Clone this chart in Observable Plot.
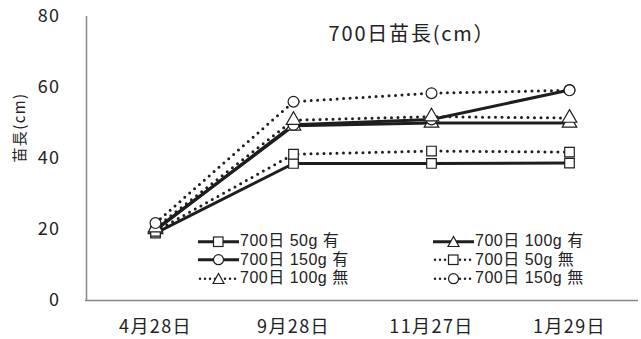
<!DOCTYPE html>
<html><head><meta charset="utf-8">
<script src="https://cdn.jsdelivr.net/npm/d3@7"></script>
<script src="https://cdn.jsdelivr.net/npm/@observablehq/plot@0.6"></script>
<style>
html,body{margin:0;padding:0;background:#fff;}
#wrap{position:relative;width:641px;height:339px;font-family:"Noto Sans CJK JP","Noto Sans",sans-serif;color:#222;}
#title{position:absolute;left:0;width:824px;top:20px;line-height:26px;text-align:center;font-size:20px;letter-spacing:1.8px;}
.leg{position:absolute;display:flex;align-items:center;font-family:"Liberation Sans","Noto Sans CJK JP",sans-serif;font-size:16px;line-height:18px;height:18px;white-space:pre;letter-spacing:0.5px;}
.leg svg{margin-right:1px;}
svg text{letter-spacing:1.4px;}
</style></head>
<body><div id="wrap"><div id="title">700日苗長(cm）</div></div>
<script>
const dates = ["4月28日","9月28日","11月27日","1月29日"];
const seriesNames = ["700日 50g 有","700日 100g 有","700日 150g 有","700日 50g 無","700日 100g 無","700日 150g 無"];
const s50yes  = [19.0, 38.6, 38.6, 38.7];
const s100yes = [20.0, 49.2, 50.0, 50.0];
const s150yes = [19.8, 49.5, 51.0, 59.3];
const s50no   = [19.5, 41.2, 42.1, 41.8];
const s100no  = [20.5, 50.8, 51.8, 51.4];
const s150no  = [21.8, 56.0, 58.4, 59.2];
const yTicks = [0,20,40,60,80];
const symbols = ["square","triangle","circle","square","triangle","circle"];
const dashed = [false,false,false,true,true,true];

const all = [s50yes,s100yes,s150yes,s50no,s100no,s150no];
const data = [];
all.forEach((vals,i)=>vals.forEach((v,j)=>data.push({series:seriesNames[i],date:dates[j],value:v,sym:symbols[i],dotted:dashed[i]})));
const solidData = data.filter(d=>!d.dotted);
const dotData = data.filter(d=>d.dotted);

const ink = "#1e1e1e";
const plot = Plot.plot({
  width:641, height:339,
  marginLeft:85, marginRight:3, marginTop:16, marginBottom:39,
  style:{fontFamily:'"Noto Sans CJK JP","Noto Sans",sans-serif', fontSize:"18px", color:"#222", background:"transparent"},
  x:{type:"point", domain:dates, padding:0.5, label:null},
  y:{domain:[0,80], ticks:yTicks, label:null},
  symbol:{domain:["square","triangle","circle"],range:["square","triangle","circle"]},
  marks:[
    Plot.axisY({ticks:yTicks, tickSize:0, tickPadding:25, fontSize:18, label:null}),
    Plot.axisX({tickSize:0, tickPadding:20, fontSize:18, label:null}),
    Plot.ruleX([0],{x:()=>dates[0], dx:-69, y1:0, y2:80, stroke:"#888", strokeWidth:1.5}),
    Plot.ruleY([0],{stroke:"#888", strokeWidth:1.5}),
    Plot.line(dotData,{x:"date",y:"value",z:"series",stroke:ink,strokeWidth:3,strokeDasharray:"0,6.5",strokeLinecap:"round"}),
    Plot.line(solidData,{x:"date",y:"value",z:"series",stroke:ink,strokeWidth:3}),
    Plot.dot(data,{x:"date",y:"value",symbol:"sym",r:5.4,fill:"white",stroke:ink,strokeWidth:1.2}),
    Plot.text(["苗長(cm)"],{frameAnchor:"left",textAnchor:"middle",dx:-65,dy:-31,rotate:-90,fontSize:15,fill:"#222"})
  ]
});
const wrap = document.getElementById("wrap");
wrap.insertBefore(plot, wrap.firstChild);

// legend: row1: 50g有, 100g有; row2: 150g有, 50g無; row3: 100g無, 150g無
const pos = [[198,232],[433,232],[198,250.5],[433,250.5],[198,269],[433,269]];
const legendSeries = [0,1,2,3,4,5];
const symPath = {
  square:'<rect x="15.5" y="4" width="9.5" height="9.5" fill="white" stroke="'+ink+'" stroke-width="1.2"/>',
  circle:'<circle cx="20.5" cy="8.7" r="5" fill="white" stroke="'+ink+'" stroke-width="1.2"/>',
  triangle:'<path d="M20.5,3.5 L26,13.5 L15,13.5 Z" fill="white" stroke="'+ink+'" stroke-width="1.2"/>'
};
legendSeries.forEach((si,k)=>{
  const d = document.createElement("div");
  d.className="leg";
  d.style.left=pos[k][0]+"px"; d.style.top=pos[k][1]+"px";
  const line = dashed[si]
    ? '<line x1="2" y1="8.7" x2="40" y2="8.7" stroke="'+ink+'" stroke-width="2.5" stroke-dasharray="0,5" stroke-linecap="round"/>'
    : '<line x1="0" y1="8.7" x2="41" y2="8.7" stroke="'+ink+'" stroke-width="3"/>';
  d.innerHTML='<svg width="41" height="17">'+line+symPath[symbols[si]]+'</svg><span>'+seriesNames[si]+'</span>';
  wrap.appendChild(d);
});
</script></body></html>
